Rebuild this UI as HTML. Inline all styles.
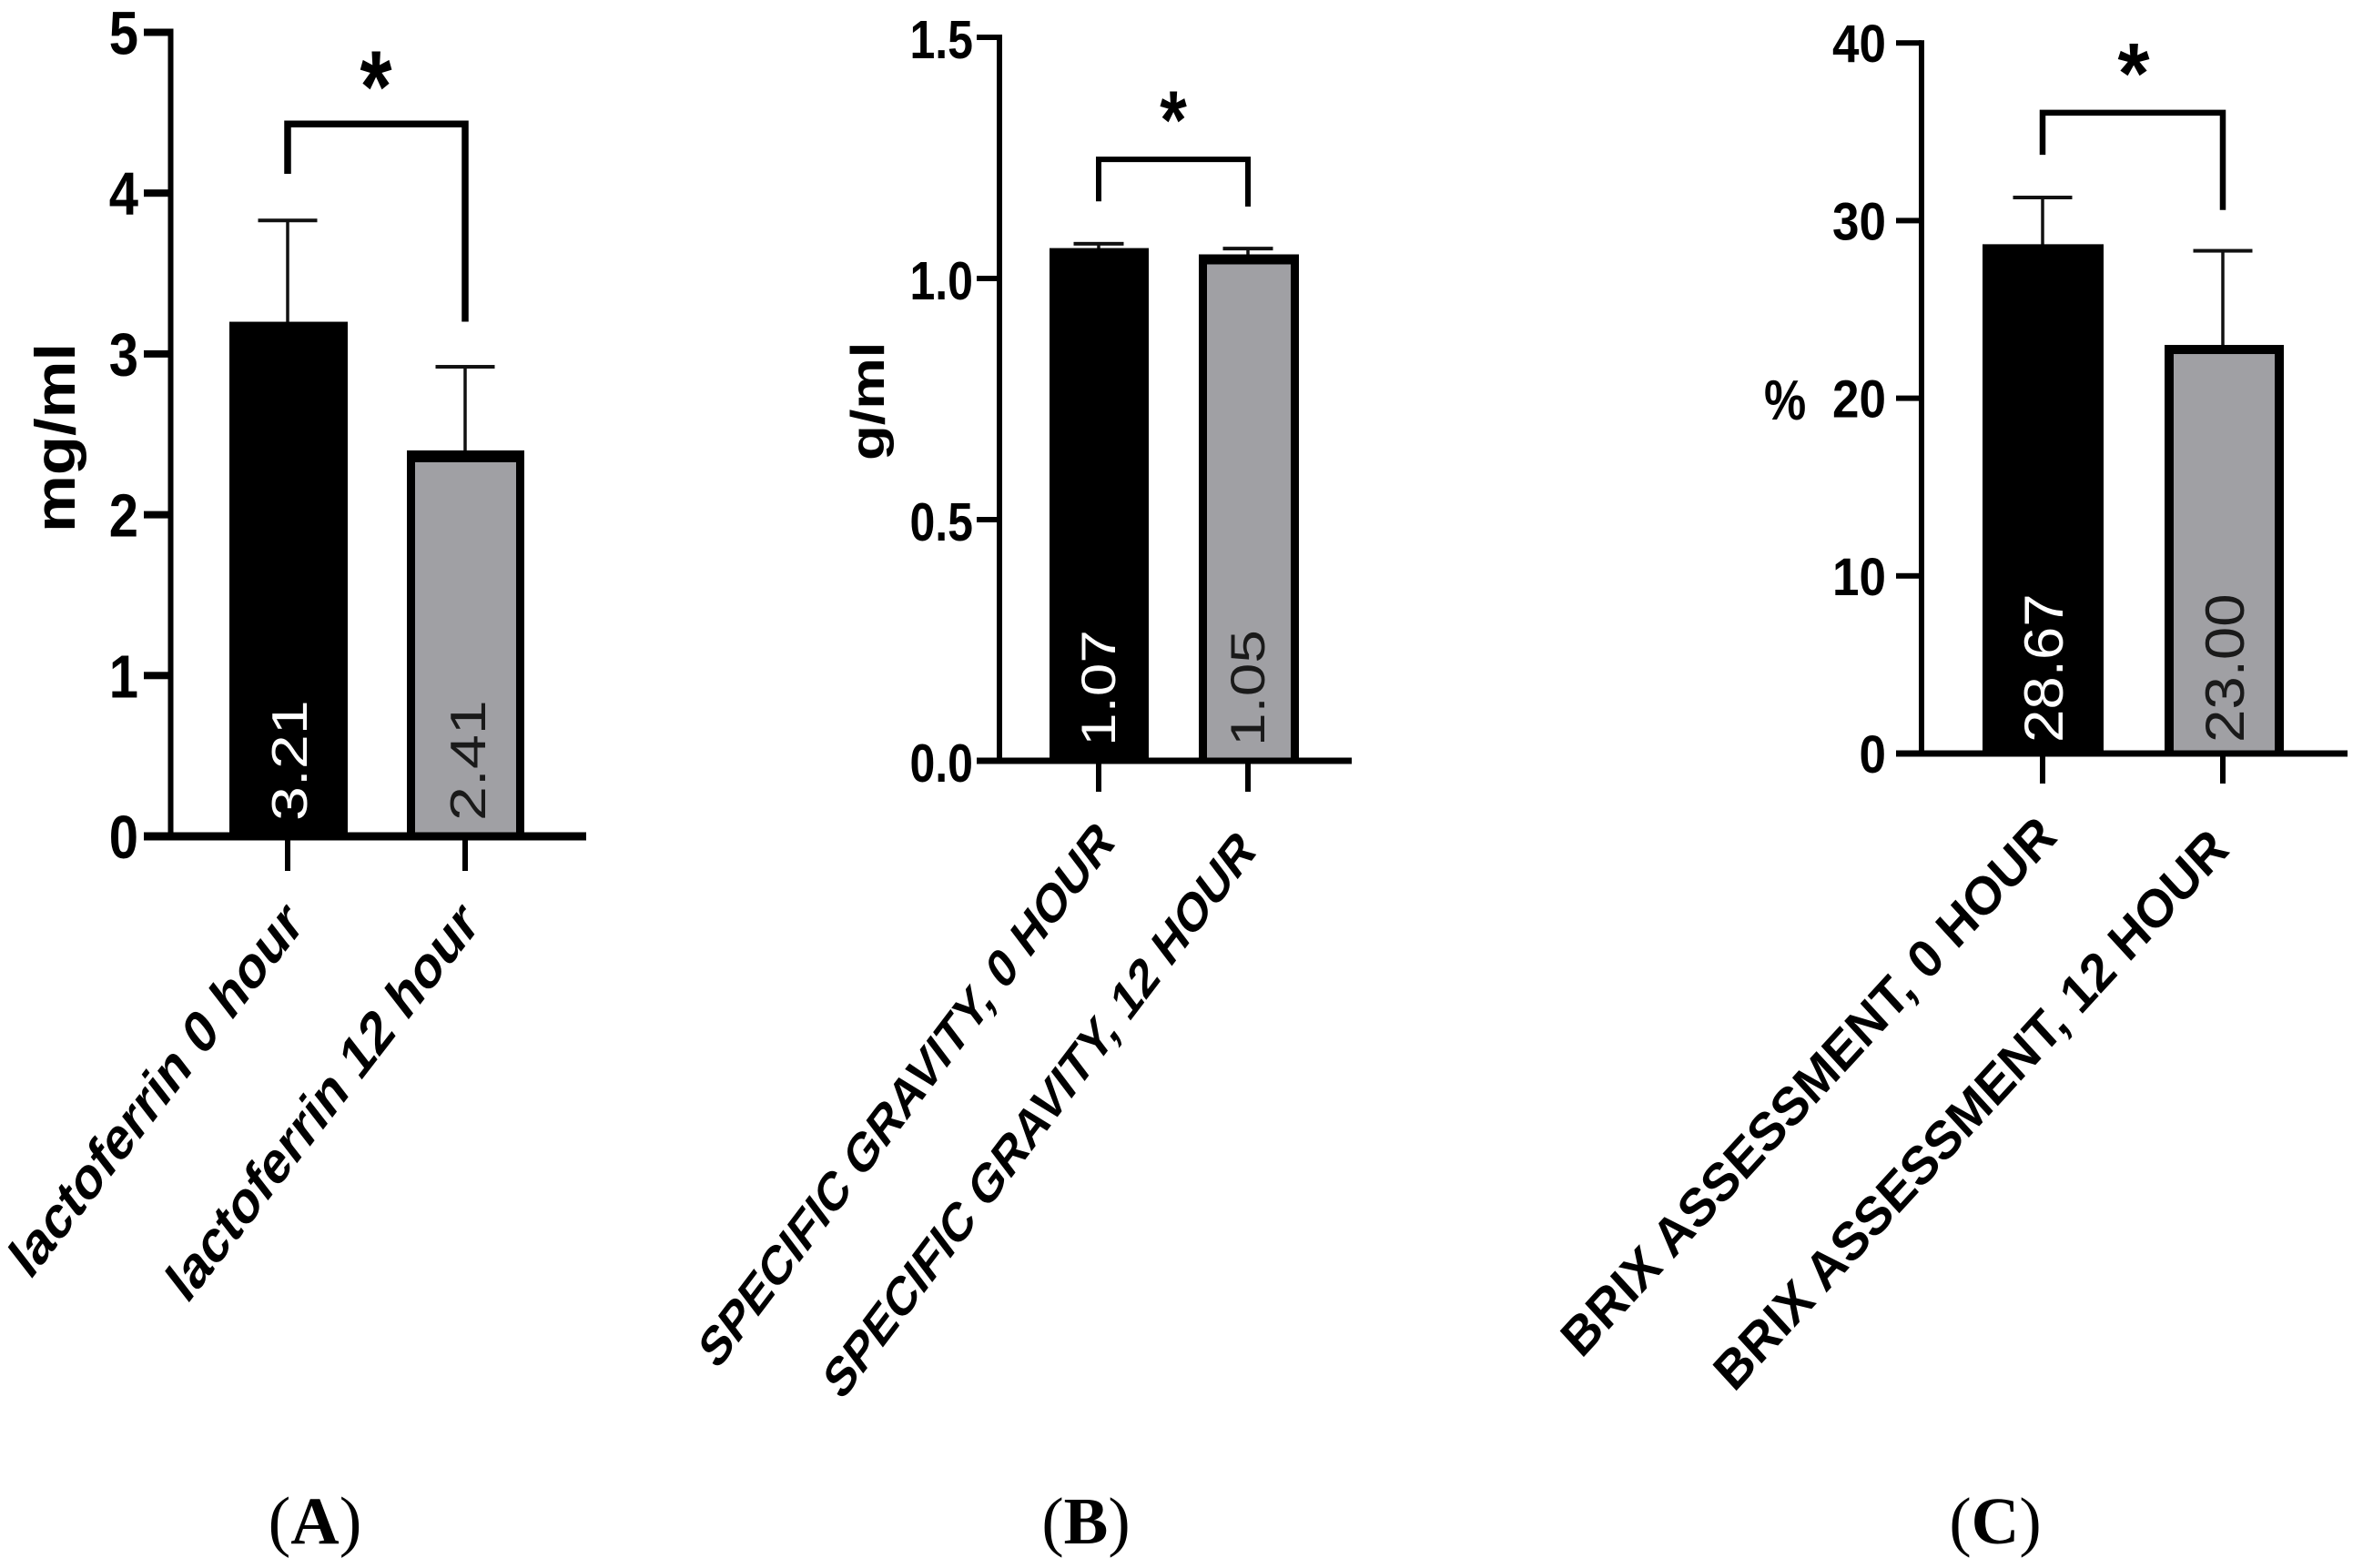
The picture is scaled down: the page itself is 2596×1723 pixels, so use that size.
<!DOCTYPE html>
<html lang="en">
<head>
<meta charset="utf-8">
<title>Lactoferrin, specific gravity and Brix at 0 and 12 hours</title>
<style>
html,body{margin:0;padding:0;background:#fff;width:2596px;height:1723px;overflow:hidden}
svg{display:block}
text{font-family:"Liberation Sans",sans-serif}
</style>
</head>
<body>
<svg id="figure" xmlns="http://www.w3.org/2000/svg" width="2596" height="1723" viewBox="0 0 2596 1723">
  <rect x="0" y="0" width="2596" height="1723" fill="#ffffff"/>
  <text x="346" y="1696" text-anchor="middle" font-size="74" style="font-family:'Liberation Serif',serif">(<tspan font-weight="bold">A</tspan>)</text>
  <text x="1193" y="1696" text-anchor="middle" font-size="73" style="font-family:'Liberation Serif',serif">(<tspan font-weight="bold">B</tspan>)</text>
  <text x="2192" y="1696" text-anchor="middle" font-size="73" style="font-family:'Liberation Serif',serif">(<tspan font-weight="bold">C</tspan>)</text>
</svg>
<script>
// Panel A data
const lactoferrinCategories = ["lactoferrin 0 hour", "lactoferrin 12 hour"];
const lactoferrinMeans = [3.2, 2.4];
const lactoferrinErrorTops = [3.83, 2.92];
const lactoferrinPrinted = ["3.21", "2.41"];
const lactoferrinTicks = [0, 1, 2, 3, 4, 5];
const lactoferrinTickLabels = ["0", "1", "2", "3", "4", "5"];
const lactoferrinBracket = [4.43, 4.12, 3.2];

// Panel B data
const gravityCategories = ["SPECIFIC GRAVITY, 0 HOUR", "SPECIFIC GRAVITY, 12 HOUR"];
const gravityMeans = [1.063, 1.05];
const gravityErrorTops = [1.072, 1.062];
const gravityPrinted = ["1.07", "1.05"];
const gravityTicks = [0, 0.5, 1, 1.5];
const gravityTickLabels = ["0.0", "0.5", "1.0", "1.5"];
const gravityBracket = [1.247, 1.16, 1.149];

// Panel C data
const brixCategories = ["BRIX ASSESSMENT, 0 HOUR", "BRIX ASSESSMENT, 12 HOUR"];
const brixMeans = [28.67, 23.0];
const brixErrorTops = [31.3, 28.3];
const brixPrinted = ["28.67", "23.00"];
const brixTicks = [0, 10, 20, 30, 40];
const brixTickLabels = ["0", "10", "20", "30", "40"];
const brixBracket = [36.07, 33.7, 30.6];

const svgNS = "http://www.w3.org/2000/svg";
const root = document.getElementById("figure");

function mk(parent, tag, name, attrs, content) {
  const node = document.createElementNS(svgNS, tag);
  
  
  for (const k in attrs) node.setAttribute(k, attrs[k]);
  if (content !== undefined) node.textContent = content;
  parent.appendChild(node);
  return node;
}

function label(parent, name, content, x, y, o) {
  return mk(parent, "text", name, {
    transform: "translate(" + x + "," + y + ") scale(1," + o.s + ") rotate(" + (o.rot || 0) + ")",
    "font-size": o.size,
    "font-weight": o.weight || "bold",
    "text-anchor": o.anchor || "start",
    fill: o.fill || "#000"
  }, content);
}

function drawPanel(c) {
  const g = mk(root, "g", c.id + "-chart", {});
  const yScale = function (v) { return c.baseY - v * c.unit; };
  const top = yScale(c.ticks[c.ticks.length - 1]);
  const half = c.axisW / 2;

  // bars
  c.means.forEach(function (v, i) {
    const b = c.bars[i];
    const y = yScale(v);
    const w = b[1] - b[0];
    // error bar
    const et = yScale(c.errorTops[i]);
    mk(g, "rect", c.id + "-error-stem-" + (i + 1), { x: c.xPos[i] - 1.75, y: et, width: 3.5, height: y - et + 2, fill: "#111" });
    mk(g, "rect", c.id + "-error-cap-" + (i + 1), { x: c.xPos[i] - c.capW / 2, y: et - 2, width: c.capW, height: 4, fill: "#111" });
    // bar body
    mk(g, "rect", c.id + "-bar-" + (i + 1), { x: b[0], y: y, width: w, height: c.baseY - y, fill: "#000" });
    if (i === 1) {
      mk(g, "rect", c.id + "-bar-2-fill", { x: b[0] + c.borderX, y: y + c.borderY, width: w - 2 * c.borderX, height: c.baseY - y - c.borderY, fill: "#a0a0a4" });
    }
  });

  // axes
  mk(g, "rect", c.id + "-y-axis-line", { x: c.axisX - half, y: top - c.tickT / 2, width: c.axisW, height: c.baseY - top + c.tickT / 2, fill: "#000" });
  c.ticks.forEach(function (t, i) {
    const y = yScale(t);
    mk(g, "rect", c.id + "-y-tick-" + c.tickLabels[i], { x: c.tickLeft, y: y - c.tickT / 2, width: c.axisX - c.tickLeft, height: c.tickT, fill: "#000" });
    label(g, c.id + "-y-tick-label-" + c.tickLabels[i], c.tickLabels[i], c.tickTextX, y + c.tickTextDy, { size: c.tickSize, s: c.s, anchor: "end" });
  });
  mk(g, "rect", c.id + "-x-axis-line", { x: c.tickLeft, y: c.baseY - c.baseT / 2, width: c.baseRight - c.tickLeft, height: c.baseT, fill: "#000" });

  // categories
  c.categories.forEach(function (cat, i) {
    mk(g, "rect", c.id + "-x-tick-" + (i + 1), { x: c.xPos[i] - 3, y: c.baseY, width: 6, height: c.xTickBottom - c.baseY, fill: "#000" });
    label(g, c.id + "-category-label-" + (i + 1), cat, c.catEnd[i][0], c.catEnd[i][1], { size: c.catSize, s: c.catS, rot: -45, anchor: "end" });
    label(g, c.id + "-bar-value-" + (i + 1), c.printed[i], c.valueX[i], c.valueY, { size: c.valueSize, s: c.valueS, rot: -90, weight: "normal", fill: i === 0 ? "#fff" : "#1a1a1a" });
  });

  // y title
  label(g, c.id + "-y-axis-title", c.title, c.titleX, c.titleY, { size: c.titleSize, s: c.titleS, rot: c.titleRot });

  // significance bracket
  const by = yScale(c.bracket[0]);
  mk(g, "path", c.id + "-significance-bracket", {
    d: "M" + c.xPos[0] + " " + yScale(c.bracket[1]) + "V" + by + "H" + c.xPos[1] + "V" + yScale(c.bracket[2]),
    fill: "none", stroke: "#000", "stroke-width": c.bracketW, "stroke-linejoin": "miter"
  });
  label(g, c.id + "-significance-asterisk", "*", c.starX, c.starY, { size: c.starSize, s: c.starS, anchor: "middle" });
}

drawPanel({
  id: "lactoferrin", title: "mg/ml", ticks: lactoferrinTicks, tickLabels: lactoferrinTickLabels,
  categories: lactoferrinCategories, means: lactoferrinMeans, errorTops: lactoferrinErrorTops,
  printed: lactoferrinPrinted, bracket: lactoferrinBracket,
  baseY: 919, unit: 176.7, axisX: 187.5, axisW: 6, tickLeft: 158, tickT: 8, baseT: 9, baseRight: 644,
  xPos: [316, 511], bars: [[252, 382], [447, 576]], borderX: 9, borderY: 13, capW: 65,
  xTickBottom: 957, s: 1.15, tickSize: 58, tickTextX: 152, tickTextDy: 24,
  catEnd: [[335, 1018], [528, 1018]], catSize: 52, catS: 1.29,
  valueX: [337, 533], valueY: 902, valueSize: 55, valueS: 1.24,
  titleX: 82, titleY: 585, titleSize: 62, titleS: 1.14, titleRot: -90,
  bracketW: 7.5, starX: 413, starY: 134, starSize: 90, starS: 1.25
});

drawPanel({
  id: "specific-gravity", title: "g/ml", ticks: gravityTicks, tickLabels: gravityTickLabels,
  categories: gravityCategories, means: gravityMeans, errorTops: gravityErrorTops,
  printed: gravityPrinted, bracket: gravityBracket,
  baseY: 836, unit: 530, axisX: 1098, axisW: 6, tickLeft: 1073, tickT: 6, baseT: 7, baseRight: 1485,
  xPos: [1207, 1371], bars: [[1153, 1262], [1317, 1427]], borderX: 9, borderY: 11, capW: 55,
  xTickBottom: 870, s: 1.18, tickSize: 50, tickTextX: 1069, tickTextDy: 23,
  catEnd: [[1226, 928], [1381, 938]], catSize: 46, catS: 1.32,
  valueX: [1225, 1389], valueY: 820, valueSize: 53, valueS: 1.24,
  titleX: 971, titleY: 506, titleSize: 52, titleS: 1.22, titleRot: -90,
  bracketW: 6, starX: 1289, starY: 163, starSize: 76, starS: 1.2
});

drawPanel({
  id: "brix", title: "%", ticks: brixTicks, tickLabels: brixTickLabels,
  categories: brixCategories, means: brixMeans, errorTops: brixErrorTops,
  printed: brixPrinted, bracket: brixBracket,
  baseY: 828, unit: 19.52, axisX: 2111, axisW: 6, tickLeft: 2083, tickT: 6, baseT: 7, baseRight: 2579,
  xPos: [2244, 2442], bars: [[2178, 2311], [2378, 2509]], borderX: 10, borderY: 10, capW: 65,
  xTickBottom: 861, s: 1.1, tickSize: 53, tickTextX: 2072, tickTextDy: 21,
  catEnd: [[2262, 922], [2451, 936]], catSize: 54, catS: 1.09,
  valueX: [2266, 2465], valueY: 816, valueSize: 60, valueS: 1.09,
  titleX: 1938, titleY: 461, titleSize: 52, titleS: 1.2, titleRot: 0,
  bracketW: 6.5, starX: 2344, starY: 113, starSize: 90, starS: 1.05
});
</script>
</body>
</html>
